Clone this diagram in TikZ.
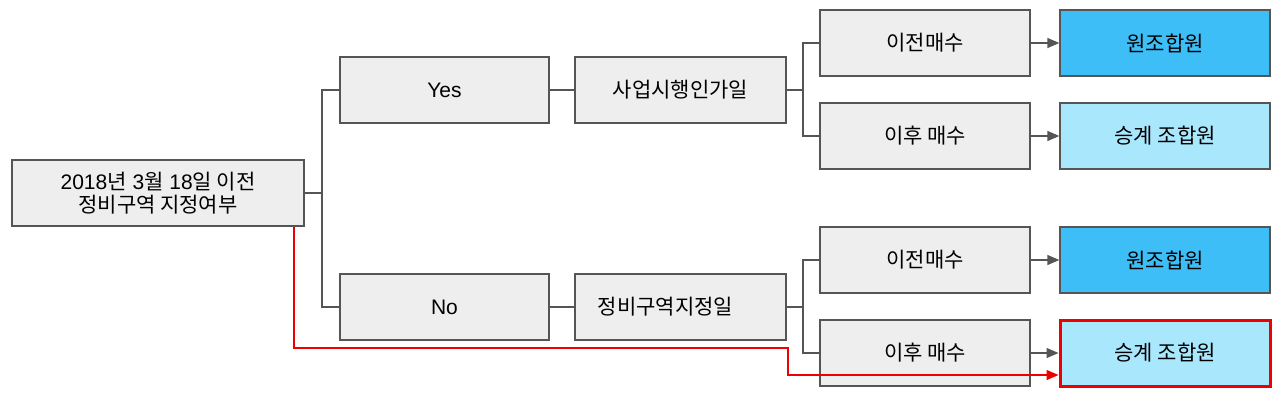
\documentclass[tikz,border=0pt]{standalone}
\usepackage{fontspec}
\setmainfont{Liberation Sans}
\newfontfamily\kr{Noto Sans CJK KR}
\usetikzlibrary{arrows.meta}
\definecolor{boxfill}{HTML}{EEEEEE}
\definecolor{edge}{HTML}{555555}
\definecolor{darkblue}{HTML}{3DBEF6}
\definecolor{lightblue}{HTML}{A9E7FD}
\definecolor{redline}{HTML}{EE0000}
\tikzset{
  box/.style={draw=edge, line width=1.3pt, fill=boxfill, minimum width=210pt, minimum height=66pt, inner sep=0pt, font=\fontsize{21}{23}\selectfont, align=center},
  wire/.style={draw=edge, line width=1.3pt},
  arr/.style={wire, -{Triangle[length=12pt,width=10pt]}},
  redarr/.style={draw=redline, line width=1.3pt, -{Triangle[length=12pt,width=10pt]}},
}
\begin{document}
\begin{tikzpicture}[x=1pt,y=-1pt]
\useasboundingbox (0,0) rectangle (1280,394);
\node[box, minimum width=292pt] (root) at (158,193) {{2018}{\kr 년} {3}{\kr 월} {18}{\kr 일 이전}\\{\kr 정비구역 지정여부}};
\node[box, minimum width=209pt] (yes) at (444.5,90) {Yes};
\node[box, minimum width=209pt] (no) at (444.5,307) {No};
\node[box, minimum width=211pt] (biz) at (680.5,90) {\kr 사업시행인가일};
\node[box, minimum width=211pt] (zone) at (680.5,307) {\kr 정비구역지정일\hspace{30pt}};
\node[box] (tb) at (925,43) {\kr 이전매수};
\node[box] (ta) at (925,136) {\kr 이후 매수};
\node[box] (bb) at (925,260) {\kr 이전매수};
\node[box] (ba) at (925,353) {\kr 이후 매수};
\node[box, fill=darkblue] (t1) at (1165,43) {\kr 원조합원};
\node[box, fill=lightblue] (t2) at (1165,136) {\kr 승계 조합원};
\node[box, fill=darkblue] (b1) at (1165,260) {\kr 원조합원};
\node[box, fill=lightblue, draw=redline, line width=3pt] (b2) at (1165,353) {\kr 승계 조합원};
\coordinate (j1) at (322,193);
\coordinate (j2) at (803,90);
\coordinate (j3) at (803,307);
\draw[wire] (root.east) -- (j1);
\draw[wire] (j1) |- (yes.west);
\draw[wire] (j1) |- (no.west);
\draw[wire] (yes.east) -- (biz.west);
\draw[wire] (no.east) -- (zone.west);
\draw[wire] (biz.east) -- (j2);
\draw[wire] (j2) |- (tb.west);
\draw[wire] (j2) |- (ta.west);
\draw[wire] (zone.east) -- (j3);
\draw[wire] (j3) |- (bb.west);
\draw[wire] (j3) |- (ba.west);
\draw[arr] (tb.east) -- (t1.west);
\draw[arr] (ta.east) -- (t2.west);
\draw[arr] (bb.east) -- (b1.west);
\draw[arr] (ba.east) -- (b2.west);
\coordinate (r1) at (294,348);
\coordinate (r2) at (788,348);
\coordinate (r3) at (788,375);
\draw[redarr] (root.south -| r1) -- (r1) -- (r2) -- (r3) -- (r3 -| b2.west);
\end{tikzpicture}
\end{document}
